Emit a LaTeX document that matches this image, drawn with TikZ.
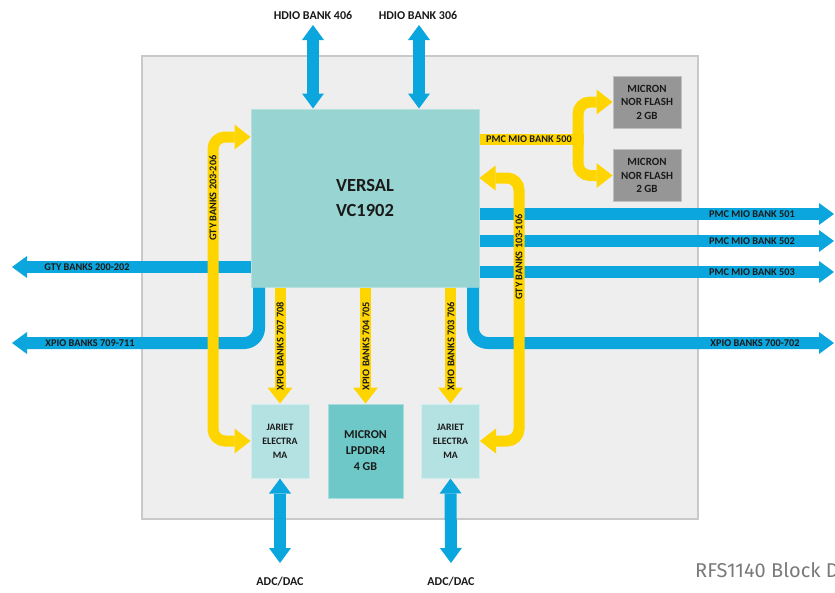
\documentclass[tikz,border=0pt]{standalone}
\usepackage{fontspec}
\setmainfont{Carlito}
\newfontfamily\capfont{Fira Sans}
\usetikzlibrary{arrows.meta}
\definecolor{cblue}{HTML}{0AA6DD}
\definecolor{cyel}{HTML}{FFD500}
\definecolor{cvers}{HTML}{97D4D2}
\definecolor{cjar}{HTML}{B4E1E2}
\definecolor{cddr}{HTML}{6DC8C7}
\definecolor{cflash}{HTML}{969696}
\definecolor{cboard}{HTML}{EEEEEE}
\definecolor{cboardline}{HTML}{C9C9C9}
\definecolor{ctext}{HTML}{1A1A1A}
\definecolor{ccap}{HTML}{7A7A7A}
\begin{document}
\begin{tikzpicture}[x=1pt,y=-1pt,
  every node/.style={text=ctext, inner sep=0pt, align=center},
  board/.style={draw=cboardline, line width=2pt, fill=cboard, minimum width=556pt, minimum height=463pt},
  chip/.style={fill=cvers, draw=cvers!70!white, line width=1pt, font=\bfseries\fontsize{18.5}{25}\selectfont},
  flash/.style={fill=cflash, draw=cflash!60!white, line width=1pt, minimum width=68pt, minimum height=52pt, font=\bfseries\fontsize{11}{13.5}\selectfont},
  jariet/.style={fill=cjar, draw=cjar!60!white, line width=1pt, minimum width=58pt, minimum height=74pt, font=\bfseries\fontsize{9.8}{14}\selectfont},
  ddr/.style={fill=cddr, draw=cddr!60!white, line width=1pt, minimum width=75pt, minimum height=94pt, font=\bfseries\fontsize{12}{16}\selectfont},
  toplbl/.style={font=\bfseries\fontsize{12}{14}\selectfont},
  bandlbl/.style={font=\bfseries\fontsize{10.3}{12}\selectfont},
  blueband/.style={draw=cblue, line width=12pt},
  yelband/.style={draw=cyel, line width=11pt},
  bt/.tip={Triangle[width=22pt,length=15pt,line width=0pt]},
  yt/.tip={Triangle[width=25pt,length=16pt,line width=0pt]}
]
\useasboundingbox (0,0) rectangle (835,592);
\clip (0,0) rectangle (835,592);

% board and blocks
\node[board] (board) at (420,287.5) {};
\node[chip, minimum width=228pt, minimum height=178pt] (versal) at (365,198) {VERSAL\\VC1902};
\node[flash] (flash1) at (647,102) {MICRON\\NOR FLASH\\2 GB};
\node[flash] (flash2) at (647,175.5) {MICRON\\NOR FLASH\\2 GB};
\node[jariet] (jarL) at (280,441) {JARIET\\ELECTRA\\MA};
\node[ddr] (ddr) at (365.5,451) {MICRON\\LPDDR4\\4 GB};
\node[jariet] (jarR) at (450.5,441) {JARIET\\ELECTRA\\MA};

% outside labels
\node[toplbl] (h406) at (313,15) {HDIO BANK 406};
\node[toplbl] (h306) at (418,15) {HDIO BANK 306};
\node[toplbl] (adcL) at (280,582) {ADC/DAC};
\node[toplbl] (adcR) at (451,582) {ADC/DAC};

% free ends
\coordinate (h406e) at (313,25);
\coordinate (h306e) at (419,25);
\coordinate (adcLe) at (280,563);
\coordinate (adcRe) at (451,563);
\coordinate (e501) at (834,214);
\coordinate (e502) at (834,241);
\coordinate (e503) at (834,272);
\coordinate (e700) at (834,343);
\coordinate (w200) at (12,267);
\coordinate (w709) at (12,343);

% blue connectors
\draw[blueband,{bt}-{bt}] (h406e) -- (h406e |- versal.north);
\draw[blueband,{bt}-{bt}] (h306e) -- (h306e |- versal.north);
\draw[blueband,{bt}-{bt}] (jarL.south) -- (adcLe);
\draw[blueband,{bt}-{bt}] (jarR.south) -- (adcRe);
\draw[blueband,-{bt}] (versal.east |- e501) -- (e501);
\draw[blueband,-{bt}] (versal.east |- e502) -- (e502);
\draw[blueband,-{bt}] (versal.east |- e503) -- (e503);
\draw[blueband,-{bt}] (versal.west |- w200) -- (w200);
\draw[blueband,-{bt},rounded corners=15pt] (versal.south -| 259,0) |- (w709);
\draw[blueband,-{bt},rounded corners=15pt] (versal.south -| 473,0) |- (e700);

% yellow connectors
\draw[yelband,{yt}-{yt},rounded corners=12pt] (versal.west |- 0,137) -| (213,441) -- (jarL.west);
\draw[yelband,{yt}-{yt},rounded corners=12pt] (versal.east |- 0,178) -| (519,441) -- (jarR.east);
\draw[yelband] (versal.east |- 0,139) -- (584,139);
\draw[yelband,{yt}-{yt},rounded corners=12pt] (flash1.west) -| (578,175.5) -- (flash2.west);
\draw[yelband,-{yt}] (versal.south -| jarL.north) -- (jarL.north);
\draw[yelband,-{yt}] (versal.south -| ddr.north) -- (ddr.north);
\draw[yelband,-{yt}] (versal.south -| jarR.north) -- (jarR.north);

% band labels
\node[bandlbl] (l200) at (87,267) {GTY BANKS 200-202};
\node[bandlbl] (l709) at (90,343) {XPIO BANKS 709-711};
\node[bandlbl] (l501) at (752,214) {PMC MIO BANK 501};
\node[bandlbl] (l502) at (752,241) {PMC MIO BANK 502};
\node[bandlbl] (l503) at (752,272) {PMC MIO BANK 503};
\node[bandlbl] (l700) at (755,343) {XPIO BANKS 700-702};
\node[bandlbl] (l500) at (529,139) {PMC MIO BANK 500};
\node[bandlbl,rotate=90] (l203) at (213,198) {GTY BANKS 203-206};
\node[bandlbl,rotate=90] (l103) at (519,257) {GTY BANKS 103-106};
\node[bandlbl,rotate=90] (l707) at (280,346) {XPIO BANKS 707 708};
\node[bandlbl,rotate=90] (l704) at (366,346) {XPIO BANKS 704 705};
\node[bandlbl,rotate=90] (l703) at (451,346) {XPIO BANKS 703 706};

% caption
\node[font=\capfont\fontsize{20}{22}\selectfont, text=ccap, anchor=base west] (cap) at (695,577) {RFS1140 Block D};
\end{tikzpicture}
\end{document}
